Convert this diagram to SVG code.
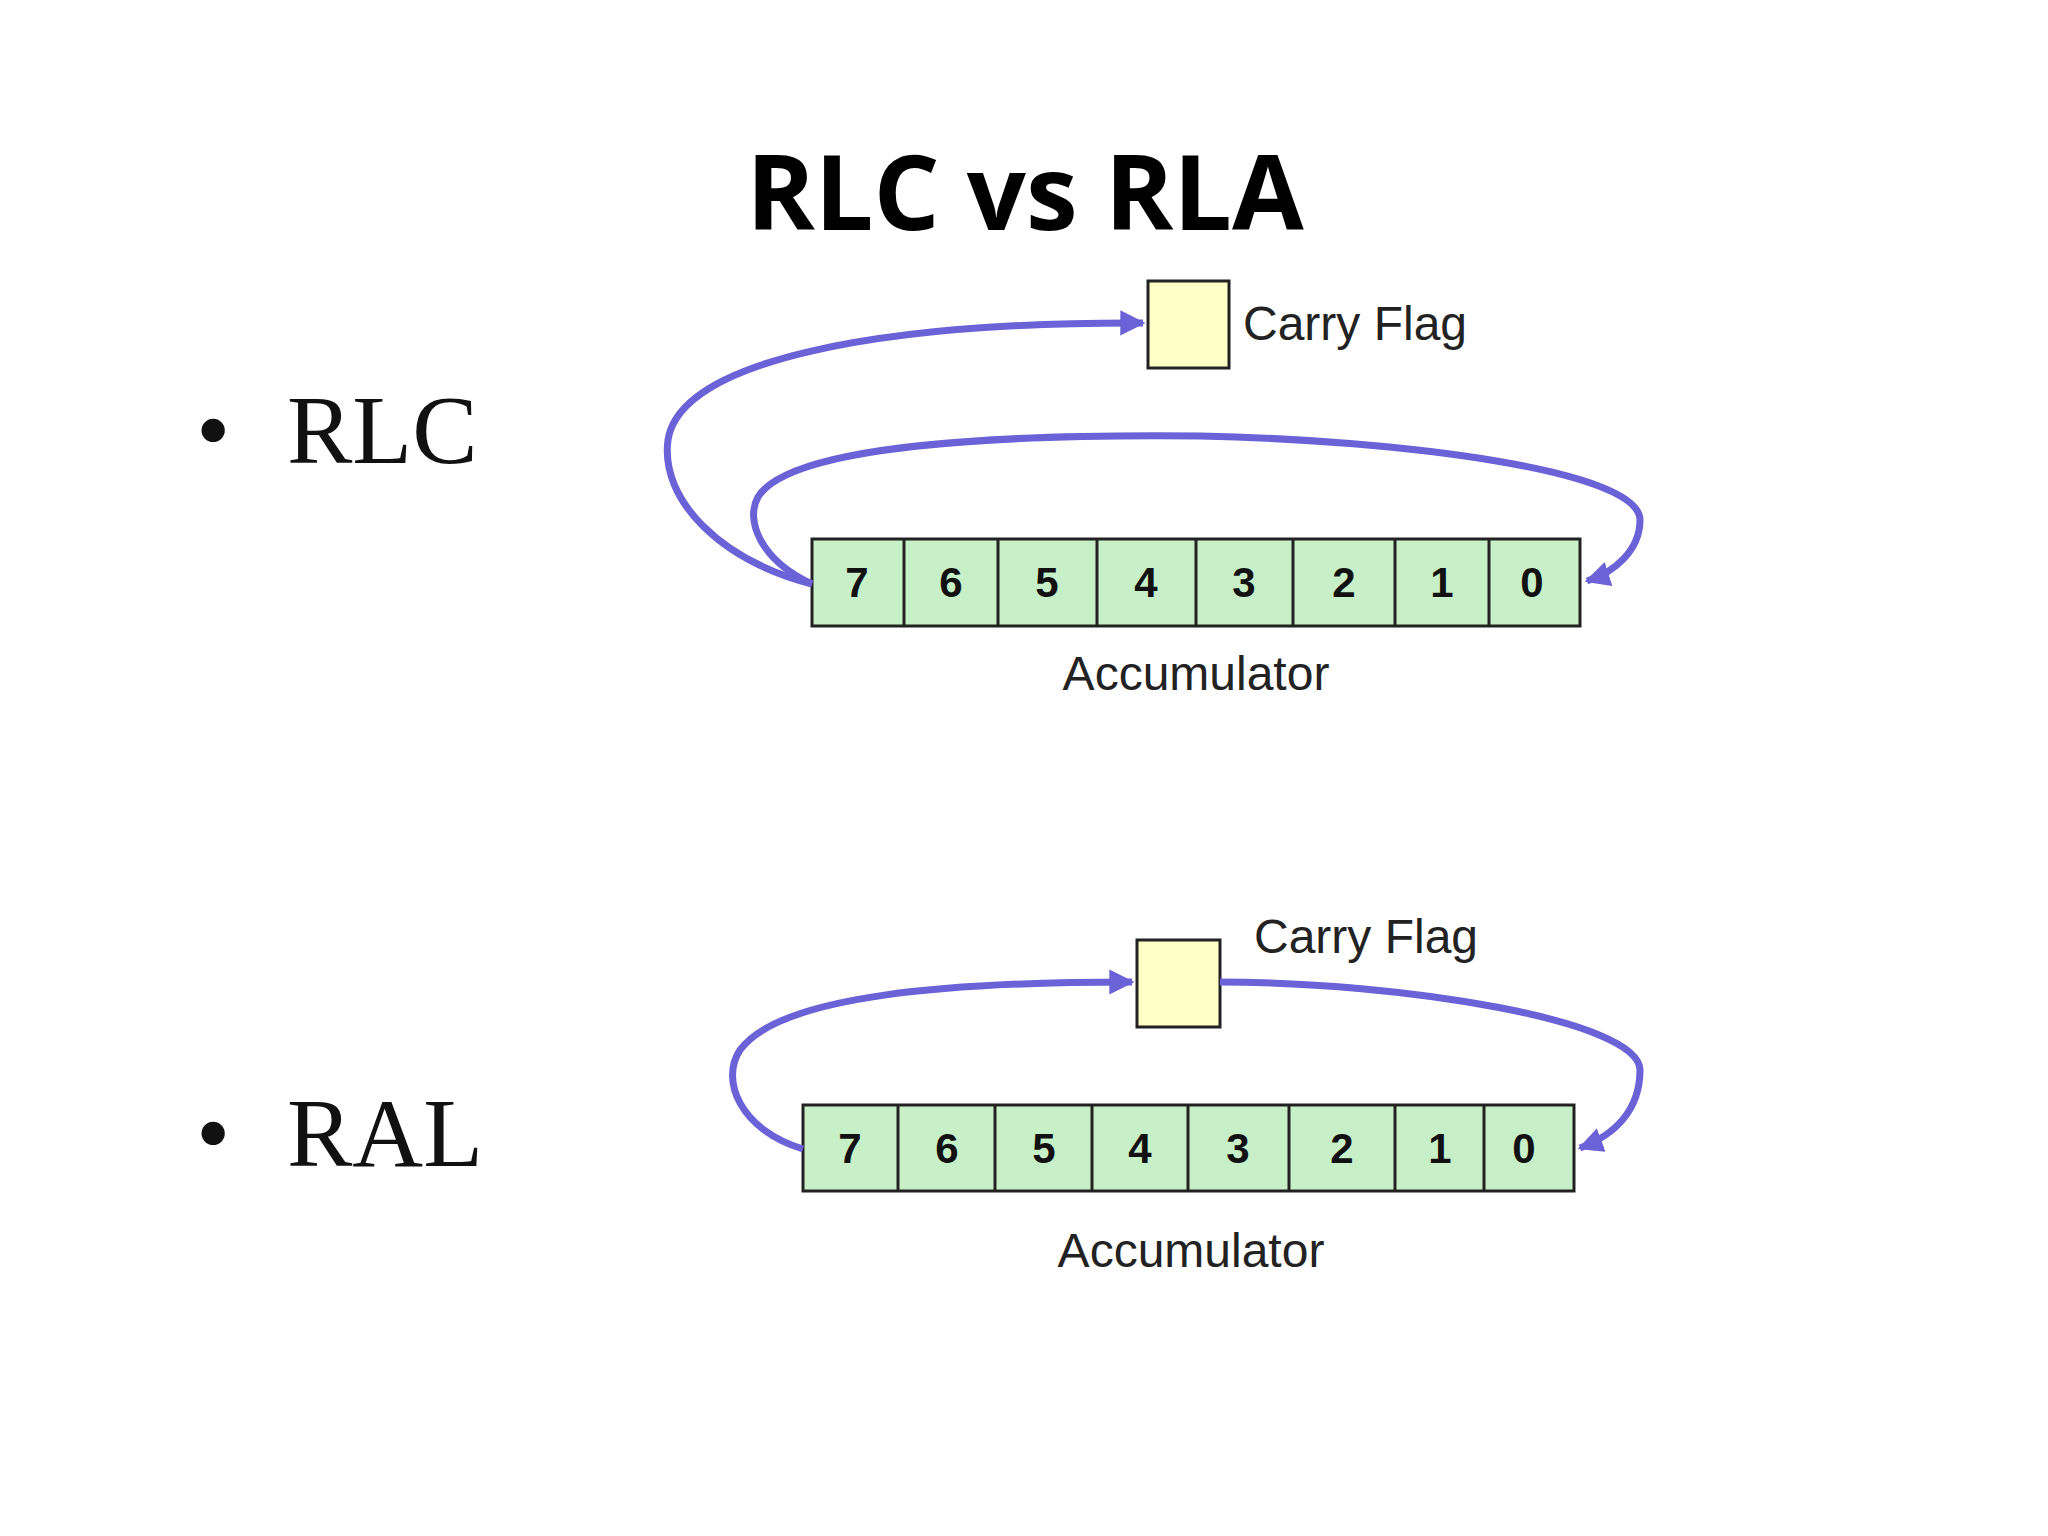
<svg xmlns="http://www.w3.org/2000/svg" width="2048" height="1536" viewBox="0 0 2048 1536">
<defs>
<marker id="ah" viewBox="0 0 10 10" refX="9" refY="5" markerWidth="3.6" markerHeight="3.6" orient="auto" markerUnits="strokeWidth"><path d="M0,0 L10,5 L0,10 z" fill="#6a62d6"/></marker>
</defs>
<style>
.title{font-family:"Open Sans","Liberation Sans",sans-serif;font-weight:bold;font-size:104px;fill:#000}
.bul{font-family:"Liberation Serif",serif;font-size:98px;fill:#111}
.lab{font-family:"Liberation Sans",Arial,sans-serif;font-size:48px;fill:#222}
.dig{font-family:"Liberation Sans",Arial,sans-serif;font-weight:bold;font-size:42px;fill:#111;text-anchor:middle}
.cell{fill:#c8f0c8;stroke:#222;stroke-width:3}
.cf{fill:#ffffc6;stroke:#222;stroke-width:3}
.con{fill:none;stroke:#6a62d6;stroke-width:7;marker-end:url(#ah)}
</style>
<rect width="2048" height="1536" fill="#fff"/>
<text class="title" x="1025" y="230" text-anchor="middle">RLC vs RLA</text>
<text class="bul" x="196" y="463">•</text><text class="bul" x="287" y="463">RLC</text>
<text class="bul" x="196" y="1166">•</text><text class="bul" x="287" y="1166">RAL</text>
<g id="carry1"><rect class="cf" x="1148" y="281" width="81" height="87"/><text class="lab" x="1243" y="340">Carry Flag</text></g>
<g id="acc1">
<rect class="cell" x="812" y="539" width="768" height="87"/>
<g stroke="#222" stroke-width="3"><path d="M904,539V626M998,539V626M1097,539V626M1196,539V626M1293,539V626M1395,539V626M1489,539V626"/></g>
<text class="dig" y="597"><tspan x="857">7</tspan><tspan x="951">6</tspan><tspan x="1047">5</tspan><tspan x="1146">4</tspan><tspan x="1244">3</tspan><tspan x="1344">2</tspan><tspan x="1442">1</tspan><tspan x="1532">0</tspan></text>
<text class="lab" x="1196" y="690" text-anchor="middle">Accumulator</text>
</g>
<g id="carry2"><rect class="cf" x="1137" y="940" width="83" height="87"/><text class="lab" x="1254" y="953">Carry Flag</text></g>
<g id="acc2">
<rect class="cell" x="803" y="1105" width="771" height="86"/>
<g stroke="#222" stroke-width="3"><path d="M898,1105V1191M995,1105V1191M1092,1105V1191M1188,1105V1191M1289,1105V1191M1395,1105V1191M1484,1105V1191"/></g>
<text class="dig" y="1163"><tspan x="850">7</tspan><tspan x="947">6</tspan><tspan x="1044">5</tspan><tspan x="1140">4</tspan><tspan x="1238">3</tspan><tspan x="1342">2</tspan><tspan x="1440">1</tspan><tspan x="1524">0</tspan></text>
<text class="lab" x="1191" y="1267" text-anchor="middle">Accumulator</text>
</g>
<g id="connectors">
<path class="con" d="M812,584 C720,560 660,500 668,440 C680,360 880,322 1143,323"/>
<path class="con" d="M812,584 C760,560 745,520 758,497 C790,445 1000,434 1200,436 C1400,440 1640,470 1640,520 C1640,550 1615,572 1587,581"/>
<path class="con" d="M803,1149 C740,1130 720,1080 740,1050 C780,995 950,982 1132,982"/>
<path class="con" d="M1220,982 C1400,982 1640,1020 1640,1070 C1640,1110 1615,1135 1580,1148"/>
</g>
</svg>
